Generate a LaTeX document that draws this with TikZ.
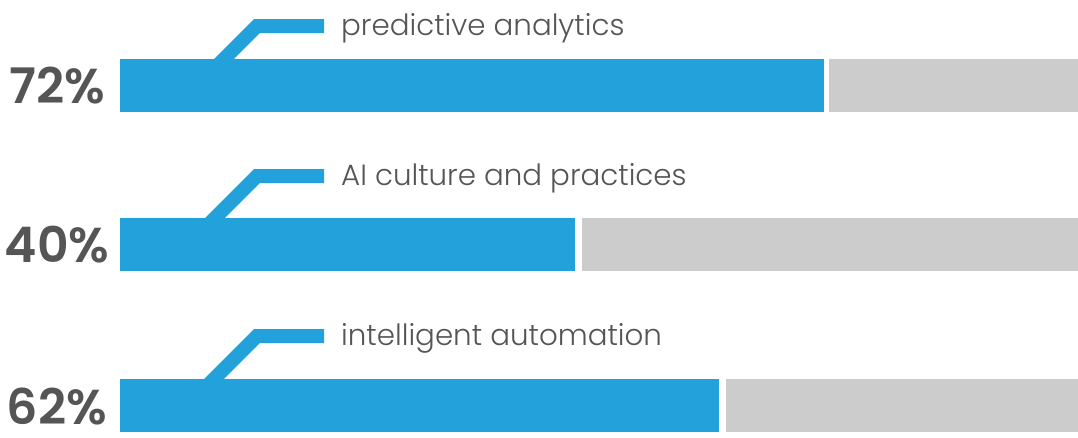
\documentclass[tikz,border=0pt]{standalone}
\usepackage{fontspec}
\setmainfont{Poppins}[UprightFont=* Light, BoldFont=* SemiBold]
\definecolor{barblue}{HTML}{22A1DB}
\definecolor{bargray}{HTML}{CCCCCC}
\definecolor{pctgray}{HTML}{555555}
\definecolor{lblgray}{HTML}{555555}
\tikzset{
  bar/.style={rectangle, draw=none, inner sep=0pt, outer sep=0pt, anchor=north west, minimum height=53pt},
  bluebar/.style={bar, fill=barblue},
  graybar/.style={bar, fill=bargray},
  pct/.style={font=\fontsize{49}{53}\selectfont\bfseries, text=pctgray, inner sep=0pt, anchor=center},
  lbl/.style={font=\fontsize{29.3}{33}\selectfont, text=lblgray, inner sep=0pt, anchor=base west},
  leader/.style={draw=barblue, line width=14pt, line join=miter, line cap=butt}
}
\begin{document}
\begin{tikzpicture}[x=1pt,y=-1pt]
\useasboundingbox[fill=white] (0,0) rectangle (1078,437);
% leaders (drawn first so bars cover their feet)
\coordinate (s1) at (218,65);
\coordinate (e1) at (324,26);
\coordinate (s2) at (209,224);
\coordinate (e2) at (324,176);
\coordinate (s3) at (208,385);
\coordinate (e3) at (324,336);
\draw[leader] (s1) -- (257,26) -- (e1);
\draw[leader] (s2) -- (257,176) -- (e2);
\draw[leader] (s3) -- (257,336) -- (e3);
% bars
\node[bluebar, minimum width=704pt] (b1) at (120,59) {};
\node[graybar, minimum width=249pt] (g1) at (829,59) {};
\node[bluebar, minimum width=455pt] (b2) at (120,218) {};
\node[graybar, minimum width=496pt] (g2) at (582,218) {};
\node[bluebar, minimum width=599pt] (b3) at (120,379) {};
\node[graybar, minimum width=352pt] (g3) at (726,379) {};
% percentages
\node[pct] (p1) at (57,85.5) {72\%};
\node[pct] (p2) at (57,244.5) {40\%};
\node[pct] (p3) at (57,407) {62\%};
% labels
\node[lbl] (l1) at (341,35) {predictive analytics};
\node[lbl] (l2) at (341,185) {AI culture and practices};
\node[lbl] (l3) at (341,345) {intelligent automation};
\end{tikzpicture}
\end{document}
